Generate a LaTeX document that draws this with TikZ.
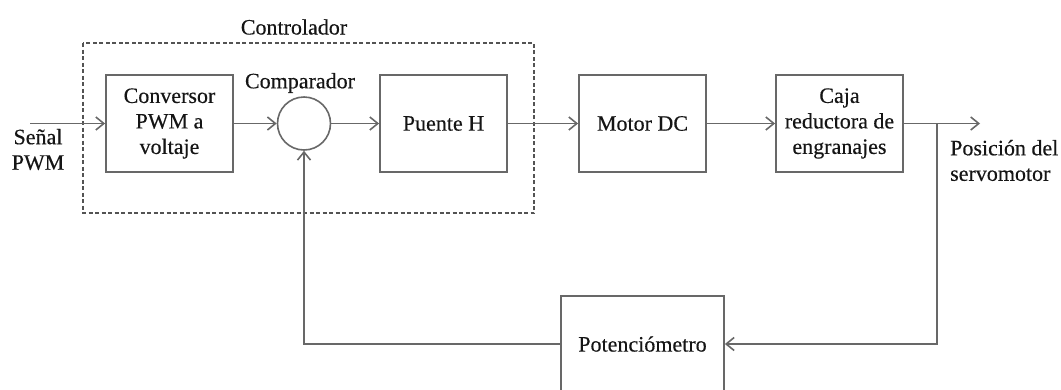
\documentclass[tikz,border=0pt]{standalone}
\usepackage{fontspec}
\setmainfont{Liberation Serif}[FakeBold=0.35]
\usetikzlibrary{arrows.meta}

\definecolor{linegray}{HTML}{686868}
\definecolor{inkgray}{HTML}{151515}

\tikzset{
  every node/.style={font=\fontsize{22}{25.5}\selectfont, text=inkgray},
  block/.style={draw=linegray, line width=1.8pt, rectangle, inner sep=0pt,
                minimum width=127pt, minimum height=97pt, align=center},
  sumnode/.style={draw=linegray, line width=1.6pt, circle, inner sep=0pt,
                  minimum size=53pt},
  label/.style={inner sep=0pt, align=center},
  wire/.style={draw=linegray, line width=1.8pt},
  arr/.style={wire, -{Straight Barb[length=8pt, width=13pt, line width=1.6pt]}},
  groupbox/.style={draw=linegray!80!black, line width=1.8pt,
                   dash pattern=on 4pt off 2.5pt}
}

\begin{document}
\begin{tikzpicture}[x=1pt, y=-1pt]
  \useasboundingbox (0,0) rectangle (1061,389);

  % controller group
  \draw[groupbox] (83,43) rectangle (534,213);
  \node[label] (ctrl) at (294,27) {Controlador};

  % forward path
  \node[block] (conv)   at (169.5,123.5) {Conversor\\PWM a\\voltaje};
  \node[sumnode] (comp) at (304,123.5) {};
  \node[label] (complbl) at (300,83) {Comparador};
  \node[block] (puente) at (443.5,123.5) {Puente H};
  \node[block] (motor)  at (642.5,123.5) {Motor DC};
  \node[block] (caja)   at (839.5,123.5) {Caja\\reductora de\\engranajes};

  % feedback element (runs past the lower edge)
  \node[block, minimum width=163pt, minimum height=96pt] (pot) at (642.5,344) {Potenciómetro};

  % input and output
  \coordinate (in)  at (30,123.5);
  \coordinate (out) at (980,123.5);
  \coordinate (br)  at (937,123.5);
  \node[label] (inlbl) at (38,149.5) {Señal\\PWM};
  \node[label, align=left, anchor=west] (outlbl) at (950,160.5) {Posición del\\servomotor};

  % connectors
  \draw[arr] (in) -- (conv);
  \draw[arr] (conv) -- (comp);
  \draw[arr] (comp) -- (puente);
  \draw[arr] (puente) -- (motor);
  \draw[arr] (motor) -- (caja);
  \draw[arr] (caja) -- (out);
  \draw[arr] (br) |- (pot.east);
  \draw[arr] (pot.west) -| (comp.south);
\end{tikzpicture}
\end{document}
